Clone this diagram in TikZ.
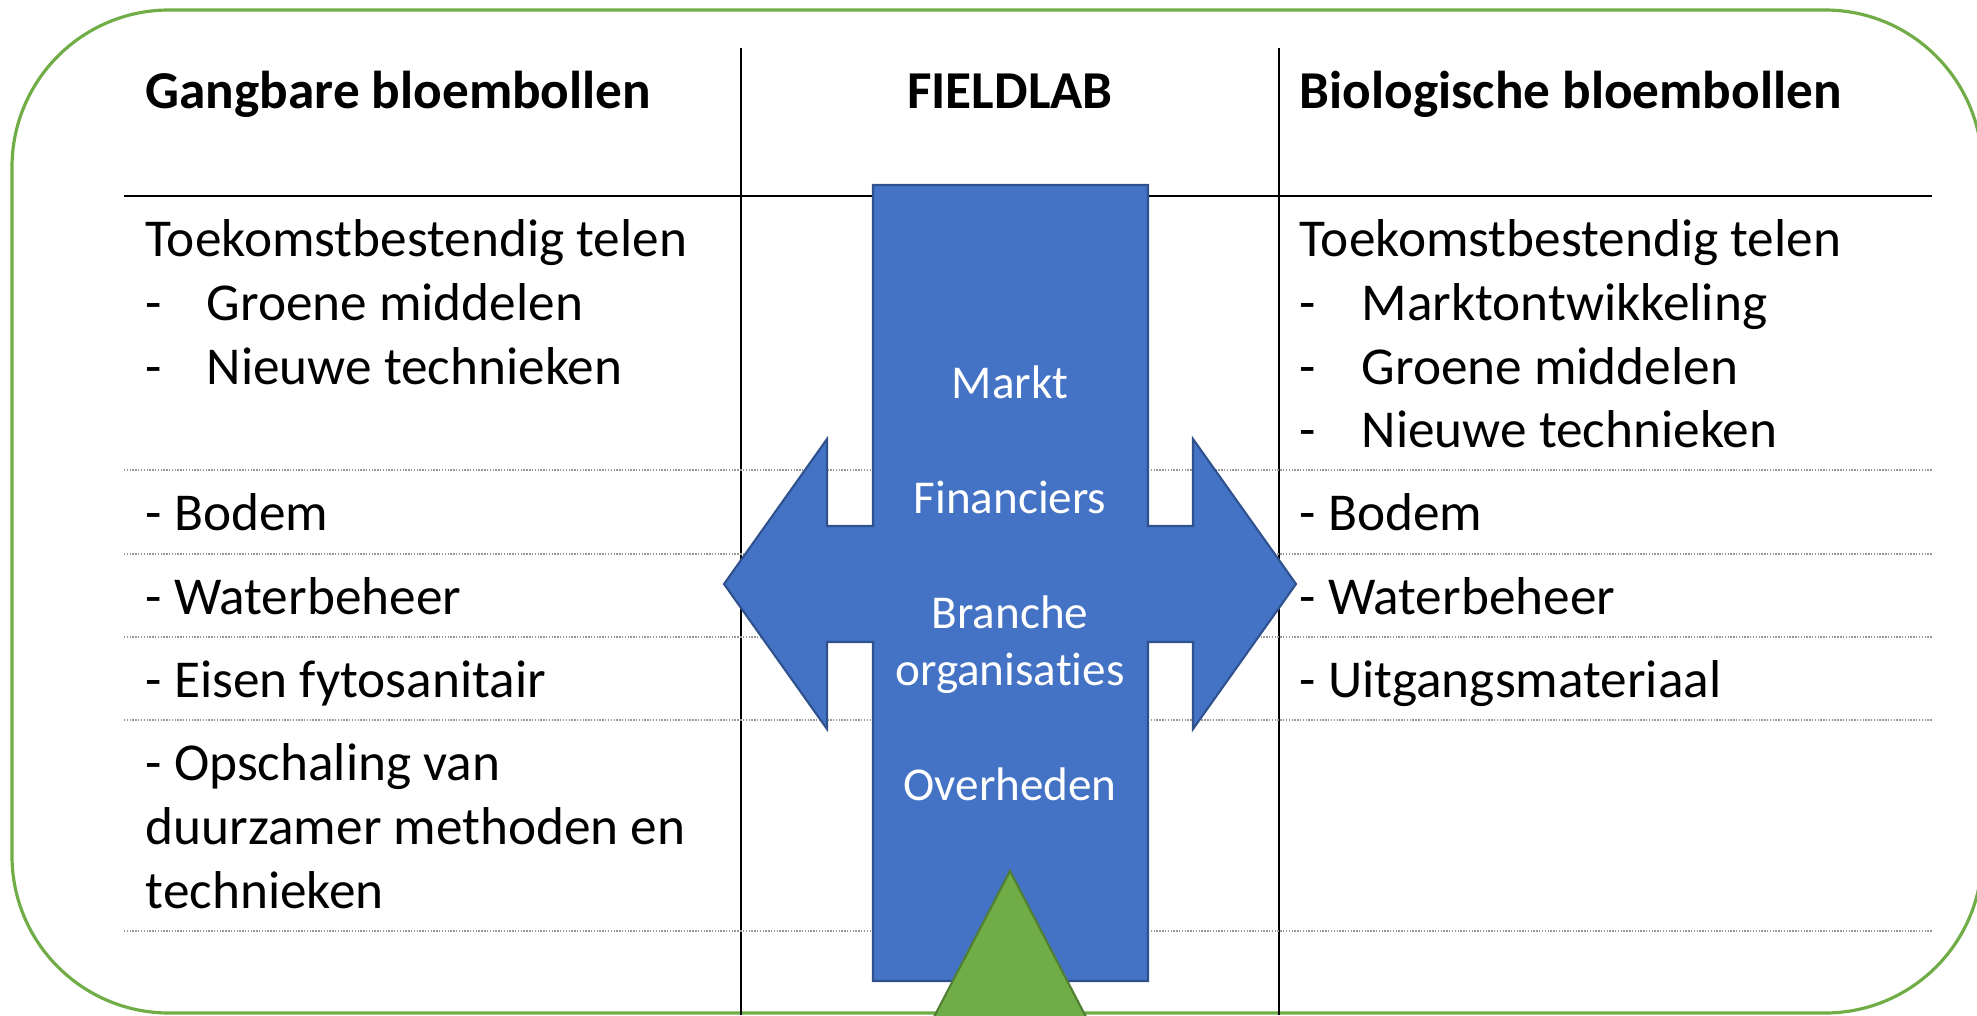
\documentclass[tikz,border=0pt]{standalone}
\usepackage{fontspec}
\setmainfont{Carlito}[Ligatures=NoCommon]
\usepackage{tikz}
\usetikzlibrary{positioning}
\definecolor{officeblue}{HTML}{4472C4}
\definecolor{blueedge}{HTML}{2F528F}
\definecolor{officegreen}{HTML}{70AD47}
\definecolor{greenedge}{HTML}{507E32}

\begin{document}
\begin{tikzpicture}[x=0.01cm,y=-0.01cm,
    celltext/.style={anchor=base west,inner sep=0pt,font=\fontsize{15.15}{18.2}\selectfont},
    headtext/.style={celltext,font=\fontsize{15.15}{18.2}\selectfont\bfseries},
    bluetext/.style={anchor=base,inner sep=0pt,text=white,font=\fontsize{13.4}{16.2}\selectfont},
    rowline/.style={gray!80,line width=0.45pt,dash pattern=on 0.4pt off 0.4pt},
    tableline/.style={black,line width=0.8pt}]
    \useasboundingbox (0,0) rectangle (1977,1015);
    % frame and table grid
    \draw[officegreen,line width=0.9pt,rounded corners=1.57cm] (12,10) rectangle (1982,1013);
    \draw[tableline] (741,48) -- (741,1015);
    \draw[tableline] (1279,48) -- (1279,1015);
    \draw[tableline] (124,196) -- (1932,196);
    \foreach \y in {470,554,637,720,931}
        \draw[rowline] (124,\y) -- (1932,\y);
    % fieldlab cross and triangle
    \draw[fill=officeblue,draw=blueedge,line width=0.6pt]
        (873,185) -- (1148,185) -- (1148,526) -- (1193,526) -- (1193,439) -- (1296,584)
        -- (1193,729) -- (1193,642) -- (1148,642) -- (1148,981) -- (873,981) -- (873,642)
        -- (827,642) -- (827,729) -- (724,584) -- (827,439) -- (827,526) -- (873,526) -- cycle;
    \draw[fill=officegreen,draw=greenedge,line width=0.6pt] (1010,871) -- (1098,1040) -- (922,1040) -- cycle;
    % headers
    \node[headtext] (gangbaar) at (145,108) {Gangbare bloembollen};
    \node[headtext,anchor=base] (fieldlab) at (1010,108) {FIELDLAB};
    \node[headtext] (biologisch) at (1299,108) {Biologische bloembollen};
    % left column
    \node[celltext] (ltelen) at (145,256) {Toekomstbestendig telen};
    \node[celltext] (lstreepa) at (145,320) {-};
    \node[celltext] (lgroen) at (206,320) {Groene middelen};
    \node[celltext] (lstreepb) at (145,384) {-};
    \node[celltext] (ltechniek) at (206,384) {Nieuwe technieken};
    \node[celltext] (lbodem) at (145,530) {- Bodem};
    \node[celltext] (lwater) at (145,614) {- Waterbeheer};
    \node[celltext] (leisen) at (145,697) {- Eisen fytosanitair};
    \node[celltext] (lopschaling) at (145,780) {- Opschaling van};
    \node[celltext] (lduurzaam) at (145,844) {duurzamer methoden en};
    \node[celltext] (lmethoden) at (145,908) {technieken};
    % right column
    \node[celltext] (rtelen) at (1299,256) {Toekomstbestendig telen};
    \node[celltext] (rstreepa) at (1299,320) {-};
    \node[celltext] (rmarkt) at (1361,320) {Marktontwikkeling};
    \node[celltext] (rstreepb) at (1299,384) {-};
    \node[celltext] (rgroen) at (1361,384) {Groene middelen};
    \node[celltext] (rstreepc) at (1299,447) {-};
    \node[celltext] (rtechniek) at (1361,447) {Nieuwe technieken};
    \node[celltext] (rbodem) at (1299,530) {- Bodem};
    \node[celltext] (rwater) at (1299,614) {- Waterbeheer};
    \node[celltext] (ruitgang) at (1299,697) {- Uitgangsmateriaal};
    % partners in the fieldlab
    \node[bluetext] (markt) at (1010,398) {Markt};
    \node[bluetext] (financiers) at (1010,513) {Financiers};
    \node[bluetext] (branche) at (1010,628) {Branche};
    \node[bluetext] (organisaties) at (1010,685) {organisaties};
    \node[bluetext] (overheden) at (1010,800) {Overheden};
\end{tikzpicture}
\end{document}
